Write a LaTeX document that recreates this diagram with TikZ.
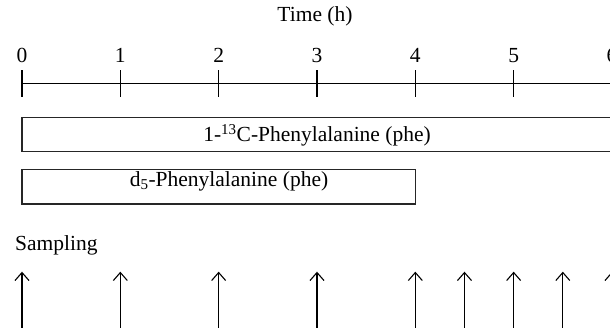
\documentclass[tikz,border=0pt]{standalone}
\usepackage{fontspec}
\setmainfont{Liberation Serif}
\usetikzlibrary{arrows.meta}
\tikzset{
  axisline/.style={line width=1.2pt, black},
  tickmark/.style={line width=1.2pt, black},
  ticklabel/.style={anchor=base, inner sep=0pt, font=\fontsize{21.5}{25}\selectfont},
  caption/.style={anchor=base, inner sep=0pt, font=\fontsize{21.5}{25}\selectfont},
  infusion/.style={draw=black!85, line width=1.1pt, anchor=north west, inner sep=0pt, outer sep=0pt},
  sample/.style={line width=1.1pt, -{Straight Barb[length=8pt, width=14pt, line width=1.1pt]}},
}
\begin{document}
\begin{tikzpicture}[x=1pt, y=-1pt]
  \path[use as bounding box, clip] (0,0) rectangle (610,327);

  % title
  \node[caption] (title) at (315,21.7) {Time (h)};

  % time axis with hourly ticks
  \coordinate (axstart) at (22,83.3);
  \coordinate (axend) at (640,83.3);
  \draw[axisline] (axstart) -- (axend);
  \foreach \h in {0,...,6} {
    \coordinate (ttop\h) at ({22+98.33*\h},70);
    \coordinate (tbot\h) at ({22+98.33*\h},96.7);
    \draw[tickmark] (ttop\h) -- (tbot\h);
    \node[ticklabel] (lab\h) at ({22+98.33*\h},62.7) {\h};
  }

  % tracer infusions
  \node[infusion, minimum width=590pt, minimum height=34.4pt] (boxc) at (22,117.3) {};
  \node[caption] (txtc) at (317,141.7) {1-\textsuperscript{13}C-Phenylalanine (phe)};
  \node[infusion, minimum width=393.7pt, minimum height=34.7pt] (boxd) at (22,169.3) {};
  \node[caption] (txtd) at (229,186.7) {d\textsubscript{5}-Phenylalanine (phe)};

  % sampling times
  \node[caption, anchor=base west] (samp) at (15,250) {Sampling};
  \foreach \t [count=\i] in {0,1,2,3,4,4.5,5,5.5,6} {
    \coordinate (stail\i) at ({22+98.33*\t},335);
    \coordinate (stip\i) at ({22+98.33*\t},271.7);
    \draw[sample] (stail\i) -- (stip\i);
  }
\end{tikzpicture}
\end{document}
